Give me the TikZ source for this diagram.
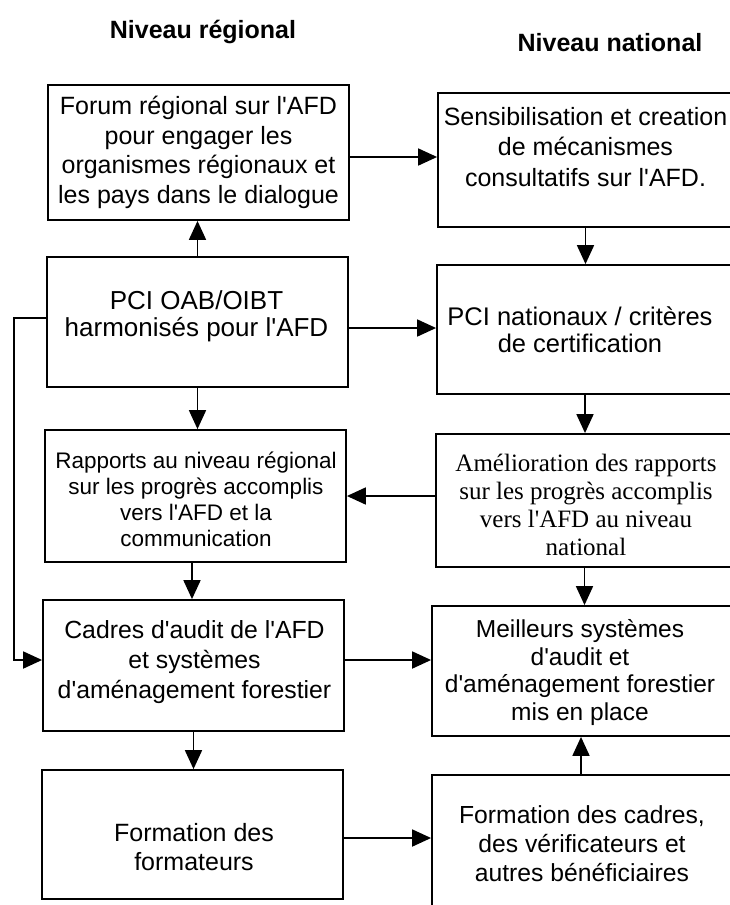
\documentclass[tikz,border=0pt]{standalone}
\usepackage{fontspec}
\setmainfont{Liberation Sans}
\newfontfamily\timesf{Liberation Serif}
\usetikzlibrary{arrows.meta,calc}
\tikzset{
  box/.style={draw, line width=1.8pt, rectangle, inner sep=0pt},
  txt/.style={align=center, inner sep=0pt},
  arr/.style={line width=1.8pt, -{Triangle[length=19pt,width=17pt]}},
  ttl/.style={font=\fontsize{25}{28}\selectfont\bfseries, inner sep=0pt}
}
\newcommand{\fs}[2]{\fontsize{#1}{#2}\selectfont}
\newcommand{\ap}{\textquotesingle}
\begin{document}
\begin{tikzpicture}[x=1pt,y=-1pt]
\useasboundingbox (0,0) rectangle (730,905);
\clip (0,0) rectangle (730,905);
\fill[white] (0,0) rectangle (730,905);
% titles
\node[ttl] (t1) at (203,32) {Niveau régional};
\node[ttl] (t2) at (610,43) {Niveau national};
% boxes
\node[box, minimum width=301pt, minimum height=135pt] (forum) at (198.5,152.5) {};
\node[box, minimum width=295pt, minimum height=134pt] (sens) at (585.5,160) {};
\node[box, minimum width=301pt, minimum height=130pt] (pci) at (197.5,322) {};
\node[box, minimum width=296pt, minimum height=129pt] (pcin) at (585,329.5) {};
\node[box, minimum width=301pt, minimum height=132pt] (rap) at (195.5,496) {};
\node[box, minimum width=297pt, minimum height=133pt] (ame) at (584.5,500.5) {};
\node[box, minimum width=301pt, minimum height=131pt] (cad) at (193.5,665.5) {};
\node[box, minimum width=301pt, minimum height=130pt] (mei) at (582.5,671) {};
\node[box, minimum width=301pt, minimum height=129pt] (form) at (192.5,834.5) {};
\node[box, minimum width=301pt, minimum height=138pt] (fn) at (582.5,844) {};
% texts
\node[txt, font=\fs{25}{29.6}] (forum-t) at (198.5,152.5) {Forum régional sur l\ap AFD\\pour engager les\\organismes régionaux et\\les pays dans le dialogue};
\node[txt, font=\fs{25}{30.5}] (sens-t) at (585.5,147) {Sensibilisation et creation\\de mécanismes\\consultatifs sur l\ap AFD.};
\node[txt, font=\fs{26}{27}] (pci-t) at (196.5,316) {PCI OAB/OIBT\\harmonisés pour l\ap AFD};
\node[txt, font=\fs{25.5}{27}] (pcin-t) at (580,330) {PCI nationaux / critères\\de certification};
\node[txt, font=\fs{22.5}{26}] (rap-t) at (196,499) {Rapports au niveau régional\\sur les progrès accomplis\\vers l\ap AFD et la\\communication};
\node[txt, font=\timesf\fs{25}{28}] (ame-t) at (586,505) {Amélioration des rapports\\sur les progrès accomplis\\vers l'AFD au niveau\\national};
\node[txt, font=\fs{24.8}{30}] (cad-t) at (194.5,662) {Cadres d\ap audit de l\ap AFD\\et systèmes\\d\ap aménagement forestier};
\node[txt, font=\fs{24.5}{27.7}] (mei-t) at (580,672.5) {Meilleurs systèmes\\d\ap audit et\\d\ap aménagement forestier\\mis en place};
\node[txt, font=\fs{25}{29}] (form-t) at (194,847.5) {Formation des\\formateurs};
\node[txt, font=\fs{24.7}{29}] (fn-t) at (582,844) {Formation des cadres,\\des vérificateurs et\\autres bénéficiaires};
% helper coordinates
\coordinate (yA) at (0,157);
\coordinate (yB) at (0,328);
\coordinate (yC) at (0,496);
\coordinate (yD) at (0,660);
\coordinate (yE) at (0,838);
\coordinate (xR) at (192,0);
\coordinate (xF) at (581,0);
\coordinate (loopA) at (14,318);
% connectors
\draw[arr] (forum.east |- yA) -- (sens.west |- yA);
\draw[arr] (pci.north) -- (pci.north |- forum.south);
\draw[arr] (sens.south) -- (sens.south |- pcin.north);
\draw[arr] (pci.east |- yB) -- (pcin.west |- yB);
\draw[arr] (pci.south) -- (pci.south |- rap.north);
\draw[arr] (pcin.south) -- (pcin.south |- ame.north);
\draw[arr] (ame.west |- yC) -- (rap.east |- yC);
\draw[arr] (rap.south -| xR) -- (cad.north -| xR);
\draw[arr] (ame.south) -- (ame.south |- mei.north);
\draw[arr] (cad.east |- yD) -- (mei.west |- yD);
\draw[arr] (pci.west |- loopA) -- (loopA) |- (cad.west |- yD);
\draw[arr] (cad.south) -- (cad.south |- form.north);
\draw[arr] (form.east |- yE) -- (fn.west |- yE);
\draw[arr] (fn.north -| xF) -- (mei.south -| xF);
\end{tikzpicture}
\end{document}
